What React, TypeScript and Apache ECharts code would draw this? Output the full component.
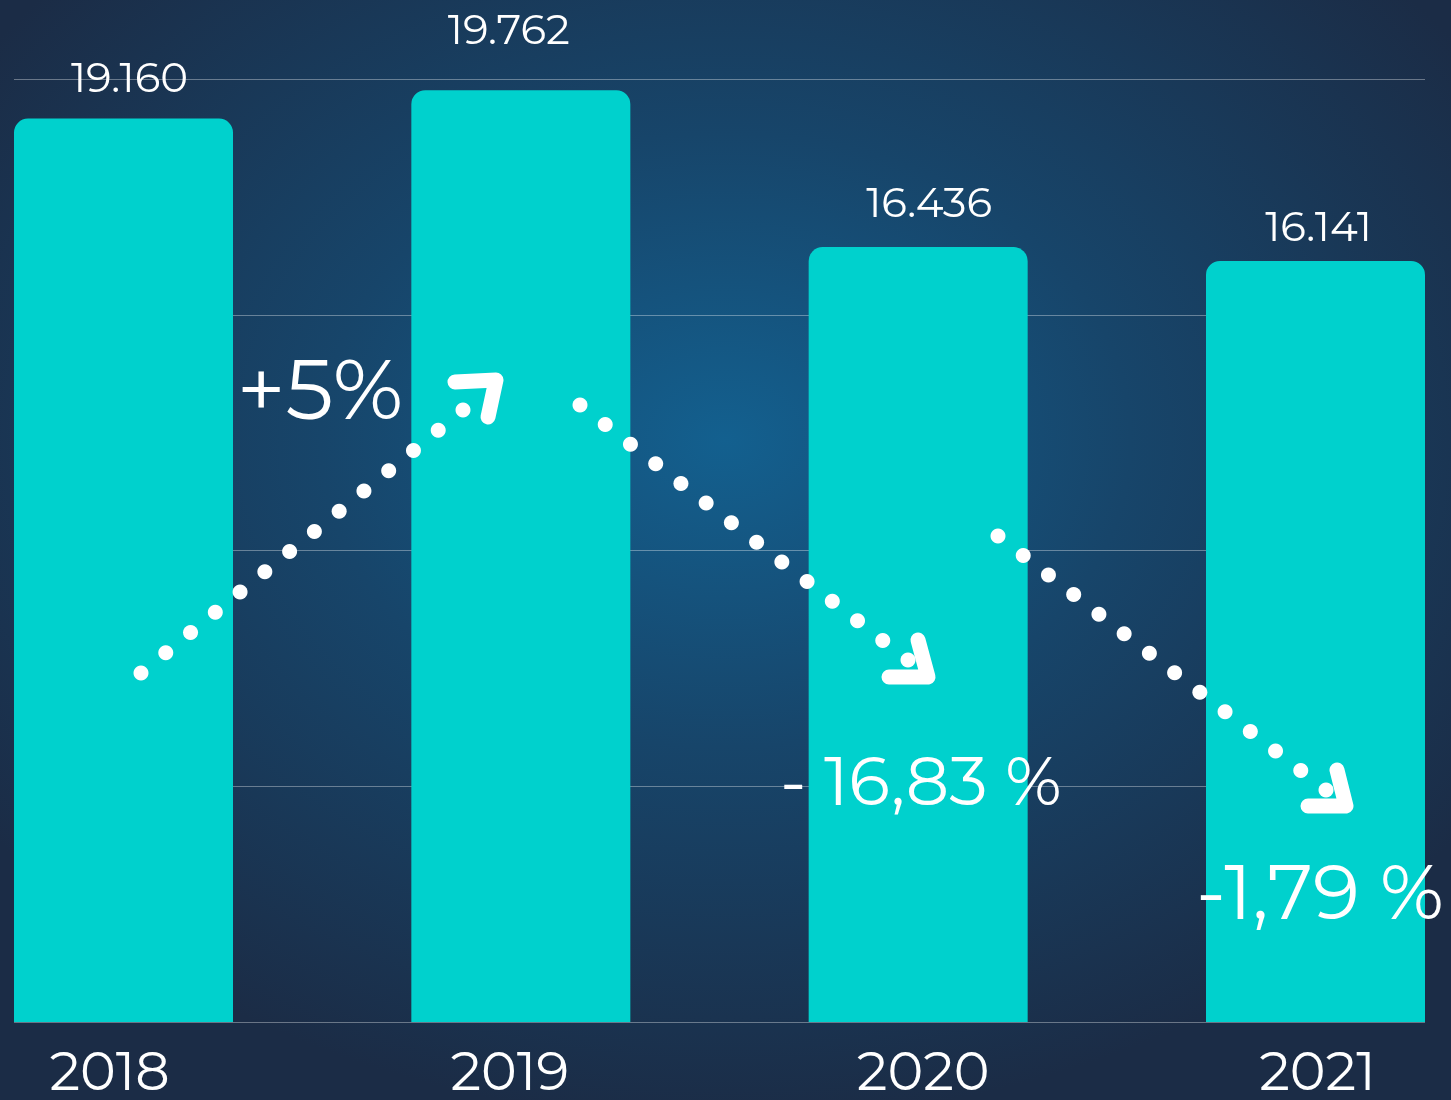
import React, { useEffect, useRef } from "react";
import * as echarts from "echarts";

const years = ["2018", "2019", "2020", "2021"];
const values = [19160, 19762, 16436, 16141];
const valueLabels = ["19.160", "19.762", "16.436", "16.141"];
const changeLabels = ["+5%", "- 16,83 %", "-1,79 %"];
const yTicks = [0, 5000, 10000, 15000, 20000];

const FONT = "'Montserrat', 'Open Sans', sans-serif";

// label placement tweaks (pixels)
const labelDistance = [21, 40, 24, 14];
const labelShiftX = [6, -12, 11, 3];
const yearOffsets = [-14, -11, 5, 2];

// decorative arrow geometry (annotations)
const dotLines = [
  { from: [141, 673], to: [463, 410] },
  { from: [580, 405], to: [908, 660] },
  { from: [998, 536], to: [1326, 790] },
];
const arrowHeads = [
  [[455, 382], [496, 380], [488, 417]],
  [[918, 640], [928, 677], [889, 677]],
  [[1337, 770], [1346, 806], [1308, 806]],
];
const changePos = [
  { x: 320, y: 388, size: 85 },
  { x: 921, y: 780, size: 68 },
  { x: 1320, y: 891, size: 77 },
];

export default function App() {
  const ref = useRef<HTMLDivElement>(null);
  useEffect(() => {
    if (!ref.current) return;
    const chart = echarts.init(ref.current, null, { renderer: "svg" });
    const DOTS = 14;
    const graphics: any[] = [];
    dotLines.forEach((l) => {
      for (let i = 0; i < DOTS; i++) {
        const t = i / (DOTS - 1);
        graphics.push({
          type: "circle",
          z: 100,
          shape: {
            cx: l.from[0] + (l.to[0] - l.from[0]) * t,
            cy: l.from[1] + (l.to[1] - l.from[1]) * t,
            r: 7.5,
          },
          style: { fill: "#ffffff" },
        });
      }
    });
    arrowHeads.forEach((pts) => {
      graphics.push({
        type: "polyline",
        z: 100,
        shape: { points: pts },
        style: {
          stroke: "#ffffff",
          fill: null,
          lineWidth: 15,
          lineCap: "round",
          lineJoin: "round",
        },
      });
    });
    changeLabels.forEach((txt, i) => {
      const p = changePos[i];
      graphics.push({
        type: "text",
        z: 100,
        x: p.x,
        y: p.y,
        style: {
          text: txt,
          fill: "#ffffff",
          fontSize: p.size,
          fontFamily: FONT,
          fontWeight: 400,
          align: "center",
          verticalAlign: "middle",
          textAlign: "center",
          textVerticalAlign: "middle",
        },
      });
    });

    chart.setOption({
      animation: false,
      backgroundColor: {
        type: "radial",
        x: 0.5,
        y: 0.4,
        r: 0.62,
        colorStops: [
          { offset: 0, color: "#13608f" },
          { offset: 0.45, color: "#17456a" },
          { offset: 1, color: "#1b2c46" },
        ],
      },
      grid: [
        { left: 14, right: 26, top: 79, bottom: 78 },
        { left: 123.5, right: 135.5, top: 79, bottom: 78 },
      ],
      xAxis: [
        { type: "category", gridIndex: 0, data: years, show: false },
        {
          type: "category",
          gridIndex: 1,
          data: years,
          boundaryGap: false,
          axisLine: { show: false },
          axisTick: { show: false },
          axisLabel: {
            margin: 22,
            color: "#ffffff",
            fontSize: 54,
            fontFamily: FONT,
            formatter: (v: string, idx: number) => `{y${idx}|${v}}`,
            rich: Object.fromEntries(
              yearOffsets.map((o, i) => [
                `y${i}`,
                {
                  color: "#ffffff",
                  fontSize: 54,
                  fontFamily: FONT,
                  padding: o < 0 ? [0, -2 * o, 0, 0] : [0, 0, 0, 2 * o],
                },
              ])
            ),
          },
        },
      ],
      yAxis: [
        {
          type: "value",
          gridIndex: 0,
          min: yTicks[0],
          max: yTicks[yTicks.length - 1],
          interval: yTicks[1] - yTicks[0],
          axisLabel: { show: false },
          axisLine: { show: false },
          axisTick: { show: false },
          splitLine: {
            show: true,
            lineStyle: { color: "rgba(255,255,255,0.35)", width: 1.2 },
          },
        },
        {
          type: "value",
          gridIndex: 1,
          min: yTicks[0],
          max: yTicks[yTicks.length - 1],
          interval: yTicks[1] - yTicks[0],
          show: false,
          splitLine: { show: false },
        },
      ],
      series: [
        {
          type: "bar",
          xAxisIndex: 1,
          yAxisIndex: 1,
          data: values.map((v, i) => ({
            value: v,
            label: { distance: labelDistance[i], offset: [labelShiftX[i], 0] },
          })),
          barWidth: 219,
          clip: false,
          itemStyle: { color: "#00d1cd", borderRadius: [14, 14, 0, 0] },
          label: {
            show: true,
            position: "top",
            color: "#ffffff",
            fontSize: 42,
            fontFamily: FONT,
            formatter: (p: any) => valueLabels[p.dataIndex],
          },
        },
      ],
      graphic: graphics,
    });
    return () => chart.dispose();
  }, []);
  return (
    <div
      ref={ref}
      style={{ position: "fixed", left: 0, top: 0, width: 1451, height: 1100 }}
    />
  );
}
